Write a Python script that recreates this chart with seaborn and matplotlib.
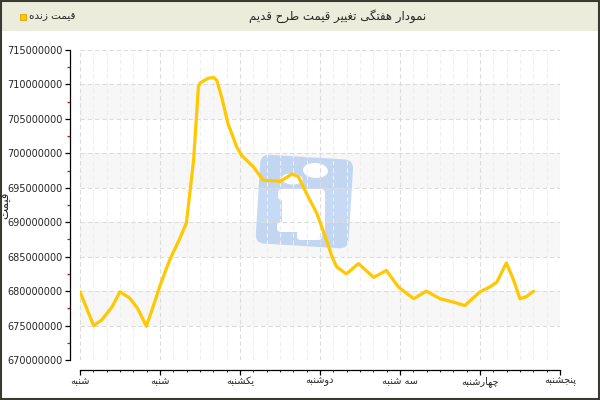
import numpy as np
import pandas as pd
import matplotlib
matplotlib.use('Agg')
import matplotlib.pyplot as plt
import matplotlib.ticker as mticker
import matplotlib.transforms as mtransforms
from matplotlib.patches import FancyBboxPatch, Rectangle, Ellipse
import seaborn as sns

title = 'نمودار هفتگی تغییر قیمت طرح قدیم'
series_name = 'قیمت زنده'
y_label = 'قیمت'
day_labels = ['شنبه', 'شنبه', 'یکشنبه', 'دوشنبه', 'سه شنبه', 'چهارشنبه', 'پنجشنبه']

# time in days from the first tick, price in millions
t_days = [0.0, 0.17, 0.27, 0.40, 0.50, 0.62, 0.72, 0.83, 0.95, 1.0, 1.12, 1.25, 1.33,
          1.42, 1.48, 1.5, 1.6, 1.67, 1.71, 1.77, 1.85, 1.96, 2.02, 2.17, 2.29, 2.46,
          2.5, 2.65, 2.73, 2.83, 2.96, 3.06, 3.15, 3.21, 3.33, 3.48, 3.67, 3.83, 3.98,
          4.17, 4.33, 4.5, 4.67, 4.81, 5.0, 5.12, 5.21, 5.33, 5.42, 5.5, 5.58, 5.67]
price_m = [679.9, 675.0, 675.8, 677.7, 679.9, 679.0, 677.5, 674.9, 679.0, 680.8, 684.5, 687.7, 689.9,
           699.0, 709.7, 710.2, 710.9, 711.0, 710.6, 708.2, 704.3, 700.9, 699.7, 698.0, 696.1, 696.0,
           695.9, 697.0, 696.6, 694.2, 691.3, 688.1, 685.0, 683.5, 682.5, 684.0, 682.0, 683.0, 680.6,
           678.9, 680.0, 678.9, 678.4, 677.9, 679.9, 680.6, 681.3, 684.1, 681.6, 678.9, 679.2, 680.0]

# matplotlib has no arabic shaping, so pick presentation forms by hand
FORMS = {
    '\u0627': ('\uFE8D', '\uFE8E', None, None),
    '\u0628': ('\uFE8F', '\uFE90', '\uFE91', '\uFE92'),
    '\u067E': ('\uFB56', '\uFB57', '\uFB58', '\uFB59'),
    '\u062A': ('\uFE95', '\uFE96', '\uFE97', '\uFE98'),
    '\u062C': ('\uFE9D', '\uFE9E', '\uFE9F', '\uFEA0'),
    '\u0686': ('\uFB7A', '\uFB7B', '\uFB7C', '\uFB7D'),
    '\u062D': ('\uFEA1', '\uFEA2', '\uFEA3', '\uFEA4'),
    '\u062F': ('\uFEA9', '\uFEAA', None, None),
    '\u0631': ('\uFEAD', '\uFEAE', None, None),
    '\u0632': ('\uFEAF', '\uFEB0', None, None),
    '\u0633': ('\uFEB1', '\uFEB2', '\uFEB3', '\uFEB4'),
    '\u0634': ('\uFEB5', '\uFEB6', '\uFEB7', '\uFEB8'),
    '\u0637': ('\uFEC1', '\uFEC2', '\uFEC3', '\uFEC4'),
    '\u063A': ('\uFECD', '\uFECE', '\uFECF', '\uFED0'),
    '\u0641': ('\uFED1', '\uFED2', '\uFED3', '\uFED4'),
    '\u0642': ('\uFED5', '\uFED6', '\uFED7', '\uFED8'),
    '\u06A9': ('\uFB8E', '\uFB8F', '\uFB90', '\uFB91'),
    '\u06AF': ('\uFB92', '\uFB93', '\uFB94', '\uFB95'),
    '\u0645': ('\uFEE1', '\uFEE2', '\uFEE3', '\uFEE4'),
    '\u0646': ('\uFEE5', '\uFEE6', '\uFEE7', '\uFEE8'),
    '\u0647': ('\uFEE9', '\uFEEA', '\uFEEB', '\uFEEC'),
    '\u0648': ('\uFEED', '\uFEEE', None, None),
    '\u06CC': ('\uFBFC', '\uFBFD', '\uFBFE', '\uFBFF'),
}


def shape(s):
    s = s.replace('\u064A', '\u06CC').replace('\u0643', '\u06A9')
    out = []
    for i, ch in enumerate(s):
        f = FORMS.get(ch)
        if f is None:
            out.append(ch)
            continue
        prev = s[i - 1] if i > 0 else ''
        nxt = s[i + 1] if i + 1 < len(s) else ''
        jp = prev in FORMS and FORMS[prev][2] is not None
        jn = nxt in FORMS and f[2] is not None
        if jp and jn:
            out.append(f[3])
        elif jp:
            out.append(f[1])
        elif jn:
            out.append(f[2])
        else:
            out.append(f[0])
    return ''.join(reversed(out))


df = pd.DataFrame({'day': t_days, 'price': np.array(price_m) * 1e6})

sns.set_style('white')
plt.rcParams['font.family'] = ['DejaVu Sans']

fig = plt.figure(figsize=(6, 4), dpi=100)
ax = fig.add_axes([80 / 600, 40 / 400, 480 / 600, 310 / 400])

# header band + outer frame
fig.add_artist(Rectangle((0, 1 - 31 / 400), 1, 31 / 400, transform=fig.transFigure,
                         facecolor='#ececdc', edgecolor='none', zorder=-1))
fig.add_artist(Rectangle((0.001, 0.002), 0.997, 0.996, transform=fig.transFigure,
                         fill=False, edgecolor='#3a3a30', lw=1.5))
fig.text(338 / 600, 1 - 16 / 400, shape(title), ha='center', va='center', fontsize=8.5)
fig.add_artist(Rectangle((20 / 600, 1 - 20 / 400), 6 / 600, 6 / 400, transform=fig.transFigure,
                         facecolor='#ffc800', edgecolor='#d9a400', lw=0.6))
fig.text(29 / 600, 1 - 16 / 400, shape(series_name), ha='left', va='center', fontsize=7.5)
fig.text(6 / 600, 1 - 205 / 400, shape(y_label), rotation=90, ha='center', va='center', fontsize=8.5)

# alternating bands
for lo in [675e6, 685e6, 695e6, 705e6]:
    ax.axhspan(lo, lo + 5e6, color='#f7f7f7', lw=0, zorder=0.2)

# watermark logo (pixel coords, y from bottom)
pix = mtransforms.Affine2D().scale(1 / 600, 1 / 400) + fig.transFigure
rot = mtransforms.Affine2D().rotate_deg_around(304, 200, -3.5) + pix
ax.add_artist(FancyBboxPatch((258, 154), 93, 89, boxstyle='round,pad=0,rounding_size=9',
                             transform=rot, facecolor='#8fb6ee', alpha=0.5, edgecolor='none', zorder=1))
for xy, w, h in [((282, 170), 43, 40), ((278, 200), 47, 11), ((277, 168), 48, 10), ((297, 160), 25, 14)]:
    ax.add_artist(FancyBboxPatch(xy, w, h, boxstyle='round,pad=0,rounding_size=4', transform=pix,
                                 facecolor='white', edgecolor='none', zorder=1.1))
ax.add_artist(Ellipse((315.5, 229.5), 25, 15, angle=-4, transform=pix, facecolor='white',
                      edgecolor='none', zorder=1.1))
ax.add_artist(Ellipse((292, 221), 21, 11, angle=-4, transform=pix, facecolor='white',
                      edgecolor='none', zorder=1.1))

sns.lineplot(data=df, x='day', y='price', color='#ffc800', lw=2.3, sort=False, ax=ax,
             solid_joinstyle='round', solid_capstyle='round', zorder=3)

ax.set_xlim(0, 6)
ax.set_ylim(670e6, 715e6)
ax.set_xticks(range(len(day_labels)))
ax.set_xticklabels([shape(d) for d in day_labels])
ax.xaxis.set_minor_locator(mticker.MultipleLocator(1 / 6))
ax.yaxis.set_major_locator(mticker.MultipleLocator(5e6))
ax.yaxis.set_minor_locator(mticker.MultipleLocator(2.5e6))
ax.yaxis.set_major_formatter(mticker.FuncFormatter(lambda v, p: f'{v:.0f}'))
ax.set_xlabel('')
ax.set_ylabel('')

ax.set_axisbelow('line')
ax.grid(which='major', color='#dcdcdc', ls=(0, (4, 2.5)), lw=0.8)
ax.grid(which='minor', axis='x', color='#efefef', ls=(0, (4, 2.5)), lw=0.8)

ax.tick_params(which='major', direction='out', length=3.5, width=0.9, color='black',
               labelsize=7, pad=2, bottom=True, left=True)
ax.tick_params(axis='x', which='major', pad=1)
ax.tick_params(axis='x', which='minor', direction='out', length=1.5, width=0.6, color='black', bottom=True)
ax.tick_params(axis='y', which='minor', direction='out', length=2.5, width=0.9, color='red', left=True)

sns.despine(ax=ax, offset=7)
for s in ['left', 'bottom']:
    ax.spines[s].set_color('black')
    ax.spines[s].set_linewidth(0.9)

fig.savefig('out.png', dpi=100)
